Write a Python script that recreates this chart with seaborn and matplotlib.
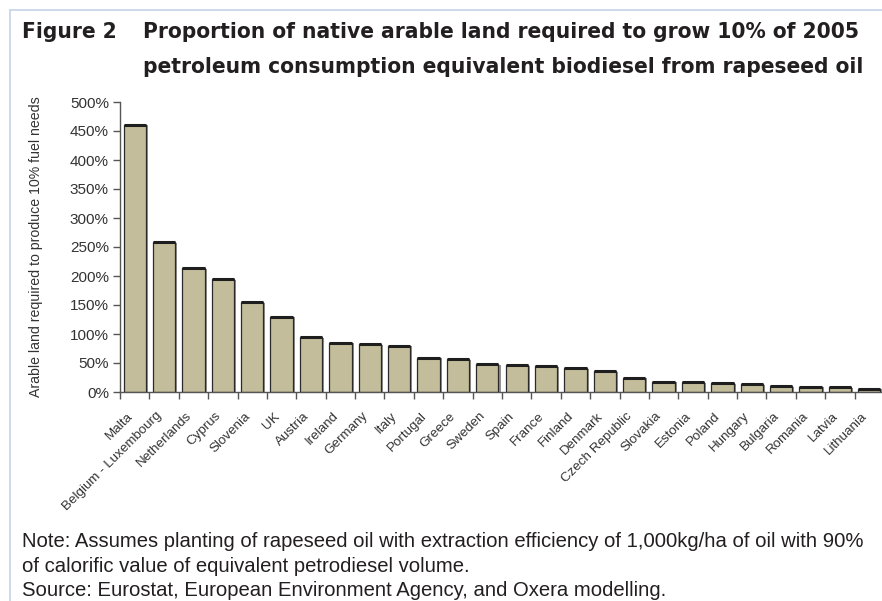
import matplotlib
matplotlib.use("Agg")
import matplotlib.pyplot as plt
import matplotlib.patheffects as pe
import matplotlib.transforms as mtransforms
from matplotlib.lines import Line2D
from matplotlib.ticker import FixedLocator, PercentFormatter
import numpy as np
import pandas as pd
import seaborn as sns

countries = ["Malta", "Belgium - Luxembourg", "Netherlands", "Cyprus", "Slovenia", "UK",
             "Austria", "Ireland", "Germany", "Italy", "Portugal", "Greece", "Sweden",
             "Spain", "France", "Finland", "Denmark", "Czech Republic", "Slovakia",
             "Estonia", "Poland", "Hungary", "Bulgaria", "Romania", "Latvia", "Lithuania"]
land_share = [461, 258, 214, 195, 155, 130, 94, 85, 83, 80, 59, 57, 48, 46, 44, 41,
              36, 25, 18, 17, 15, 13, 10, 9, 8.5, 6]
y_ticks = [0, 50, 100, 150, 200, 250, 300, 350, 400, 450, 500]

df = pd.DataFrame({"country": countries, "share": land_share})

sns.set_theme(style="white")
plt.rcParams["font.family"] = ["Liberation Sans", "DejaVu Sans"]

W, H = 882, 601
fig = plt.figure(figsize=(W / 100, H / 100), dpi=100)
ax = fig.add_axes([120 / W, 209 / H, 764 / W, 290 / H])

sns.barplot(data=df, x="country", y="share", color="#c4bd9b", saturation=1,
            width=0.76, edgecolor="#2a2a2a", linewidth=0.9, ax=ax)
for bar in ax.patches:
    bar.set_path_effects([pe.SimplePatchShadow(offset=(1.5, -0.5), shadow_rgbFace="#777777", alpha=0.8),
                          pe.Normal()])
    x0 = bar.get_x()
    ax.plot([x0, x0 + bar.get_width()], [bar.get_height()] * 2, color="#1e1e1e",
            lw=2.2, solid_capstyle="butt", zorder=5)

ax.set_xlim(-0.5, len(countries) - 0.5)
ax.set_ylim(0, 500)
ax.yaxis.set_major_locator(FixedLocator(y_ticks))
ax.yaxis.set_major_formatter(PercentFormatter(decimals=0))
ax.set_xlabel("")
ax.set_ylabel("Arable land required to produce 10% fuel needs", fontsize=10.2,
              color="#333333")
ax.yaxis.set_label_coords((43 - 120) / 764, 0.5)

ax.set_xticks(np.arange(len(countries)))
ax.set_xticklabels(countries, rotation=45, ha="right", va="center", rotation_mode="anchor",
                   fontsize=9.6, color="#333333")
ax.tick_params(axis="x", which="major", length=0, pad=16)
label_shift = mtransforms.ScaledTranslation(-4 / 100, 0, fig.dpi_scale_trans)
for lbl in ax.get_xticklabels():
    lbl.set_transform(lbl.get_transform() + label_shift)
ax.set_xticks(np.arange(len(countries) + 1) - 0.5, minor=True)
ax.tick_params(axis="x", which="minor", length=5, width=1, color="#555555", direction="out",
               bottom=True)
ax.tick_params(axis="y", length=5, width=1, color="#555555", direction="out", left=True,
               labelsize=11, labelcolor="#333333", pad=3)

for side in ["top", "right"]:
    ax.spines[side].set_visible(False)
for side in ["left", "bottom"]:
    ax.spines[side].set_color("#555555")
    ax.spines[side].set_linewidth(1.0)

# light frame along the top and left edges
frame_color = "#c9d7ea"
fig.add_artist(Line2D([10 / W, 1], [1 - 10 / H, 1 - 10 / H], color=frame_color, lw=1.3,
                      transform=fig.transFigure))
fig.add_artist(Line2D([10 / W, 10 / W], [0, 1 - 10 / H], color=frame_color, lw=1.3,
                      transform=fig.transFigure))

renderer = fig.canvas.get_renderer()


def fit_size(s, width_px, **kw):
    """Font size at which s spans width_px pixels."""
    t = fig.text(0, 0, s, **kw)
    size = t.get_fontsize() * width_px / t.get_window_extent(renderer).width
    t.remove()
    return size


title_font = dict(family=["DejaVu Sans", "Liberation Sans"], fontweight="bold",
                  fontstretch="condensed", color="#231f20", va="baseline")
title_1 = "Proportion of native arable land required to grow 10% of 2005"
title_font["fontsize"] = fit_size(title_1, 715, fontsize=15, **title_font)
fig.text(22 / W, 1 - 38 / H, "Figure 2", **title_font)
fig.text(143 / W, 1 - 38 / H, title_1, **title_font)
fig.text(143 / W, 1 - 73 / H,
         "petroleum consumption equivalent biodiesel from rapeseed oil", **title_font)

note_font = dict(color="#231f20", va="baseline")
note_1 = ("Note: Assumes planting of rapeseed oil with extraction efficiency of "
          "1,000kg/ha of oil with 90%")
note_font["fontsize"] = fit_size(note_1, 840, fontsize=13, **note_font)
fig.text(22 / W, 1 - 547 / H, note_1, **note_font)
fig.text(22 / W, 1 - 572 / H, "of calorific value of equivalent petrodiesel volume.",
         **note_font)
fig.text(22 / W, 1 - 596 / H,
         "Source: Eurostat, European Environment Agency, and Oxera modelling.", **note_font)

fig.savefig("out.png", dpi=100)
